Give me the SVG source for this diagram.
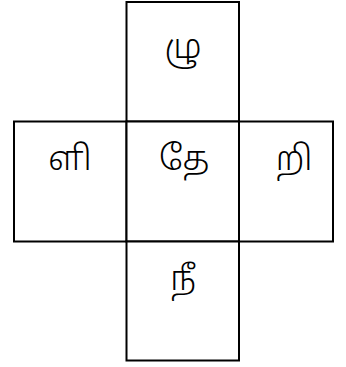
<svg xmlns="http://www.w3.org/2000/svg" width="346" height="367" viewBox="0 0 346 367">
<style>
.cell{fill:#fff;stroke:#000;stroke-width:2}
.t{font-family:"Noto Sans Tamil","Lohit Tamil","Noto Sans",sans-serif;font-size:34px;font-weight:300;fill:#000;text-anchor:middle}
</style>
<rect width="346" height="367" fill="#fff"/>
<g id="top"><rect class="cell" x="126.5" y="2" width="112.5" height="119.5"/><text class="t" x="183" y="58">ழு</text></g>
<g id="left"><rect class="cell" x="14" y="121.5" width="112.5" height="120"/><text class="t" x="70" y="170">ளி</text></g>
<g id="center"><rect class="cell" x="126.5" y="121.5" width="112.5" height="120"/><text class="t" x="184" y="170">தே</text></g>
<g id="right"><rect class="cell" x="239" y="121.5" width="94" height="120"/><text class="t" x="294" y="170">றி</text></g>
<g id="bottom"><rect class="cell" x="126.5" y="241.5" width="112.5" height="119"/><text class="t" x="183" y="290">நீ</text></g>
<g id="connectors"></g>
</svg>
